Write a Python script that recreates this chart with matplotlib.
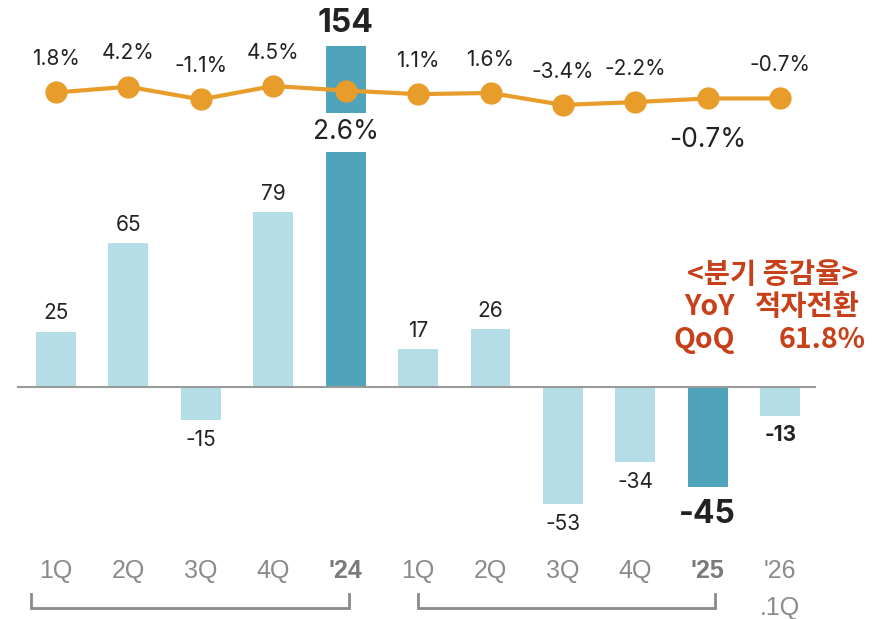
import numpy as np
import matplotlib.pyplot as plt

# quarterly values (bars) and growth rates (line)
quarters = ['1Q', '2Q', '3Q', '4Q', "'24", '1Q', '2Q', '3Q', '4Q', "'25", "'26"]
values = [25, 65, -15, 79, 154, 17, 26, -53, -34, -45, -13]
rates = [1.8, 4.2, -1.1, 4.5, 2.6, 1.1, 1.6, -3.4, -2.2, -0.7, -0.7]
annual = [4, 9]  # yearly totals, drawn darker

light = '#B5DDE7'
dark = '#4FA3BA'
orange = '#E89C2A'
red = '#C8401A'
grey_txt = '#8A8A8A'

plt.rcParams['font.family'] = ['Inter', 'Noto Sans CJK KR', 'DejaVu Sans']
narrow = ['Liberation Sans Narrow', 'Liberation Sans', 'DejaVu Sans']

fig = plt.figure(figsize=(8.91, 6.19), dpi=100)
ax = fig.add_axes([0, 0, 1, 1])
ax.set_xlim(-0.773, 11.53)
ax.set_ylim(-104.8, 174.8)
ax.axis('off')

x = np.arange(len(values))
colors = [dark if i in annual else light for i in x]
ax.bar(x, values, width=0.55, color=colors, zorder=2)
ax.plot([-0.525, 10.48], [0, 0], color='#9A9A9A', lw=1.5, zorder=3)

# bar labels
for i, v in enumerate(values):
    big = i in annual
    bold = big or i == 10
    size = 23 if big else 15
    weight = 'bold' if bold else 'normal'
    if v >= 0:
        ax.annotate(str(v), (i, v), xytext=(0, 6 if not big else 5), textcoords='offset points',
                    ha='center', va='bottom', fontsize=size, fontweight=weight, color='#222222')
    else:
        ax.annotate(str(v), (i, v), xytext=(0, -7 if not big else -9), textcoords='offset points',
                    ha='center', va='top', fontsize=size, fontweight=weight, color='#222222')

# growth-rate line
ax2 = fig.add_axes([0, 0, 1, 1], sharex=ax)
ax2.set_ylim(-217.58, 40.33)
ax2.axis('off')
ax2.plot(x, rates, color=orange, lw=3, marker='o', markersize=15, zorder=4)
for i, r in enumerate(rates):
    txt = f'{r:.1f}%'
    if i in annual:
        ax2.annotate(txt, (i, r), xytext=(0, -30), textcoords='offset points',
                     ha='center', va='center', fontsize=19, color='#222222',
                     bbox=dict(boxstyle='square,pad=0.25', fc='white', ec='none'))
    else:
        ax2.annotate(txt, (i, r), xytext=(0, 24), textcoords='offset points',
                     ha='center', va='center', fontsize=15, color='#222222')

# x labels
for i, q in enumerate(quarters):
    bold = i in annual
    ax.text(i, 0.0775, q, transform=ax.get_xaxis_transform(), ha='center', va='center',
            fontsize=18, color='#7A7A7A' if bold else grey_txt,
            fontweight='bold' if bold else 'normal', family=narrow)
ax.text(10, 0.018, '.1Q', transform=ax.get_xaxis_transform(), ha='center', va='center',
        fontsize=18, color=grey_txt, family=narrow)

# year brackets
trans = ax.get_xaxis_transform()
for a, b in [(-0.35, 4.05), (5.0, 9.1)]:
    ax.plot([a, a, b, b], [0.0404, 0.0178, 0.0178, 0.0404], transform=trans,
            color='#8A8A8A', lw=2, solid_joinstyle='miter')

# quarterly change note
kw = dict(color=red, fontsize=20.5, fontweight='bold', va='center',
          family=['Noto Sans CJK KR', 'DejaVu Sans'])
W, H = 891, 619
fig.text(773 / W, 1 - 275 / H, '<분기 증감율>', ha='center', **kw)
fig.text(735 / W, 1 - 307 / H, 'YoY', ha='right', **kw)
fig.text(860 / W, 1 - 307 / H, '적자전환', ha='right', **kw)
fig.text(735 / W, 1 - 340 / H, 'QoQ', ha='right', **kw)
fig.text(866 / W, 1 - 340 / H, '61.8%', ha='right', **kw)

fig.savefig('out.png', dpi=100)
